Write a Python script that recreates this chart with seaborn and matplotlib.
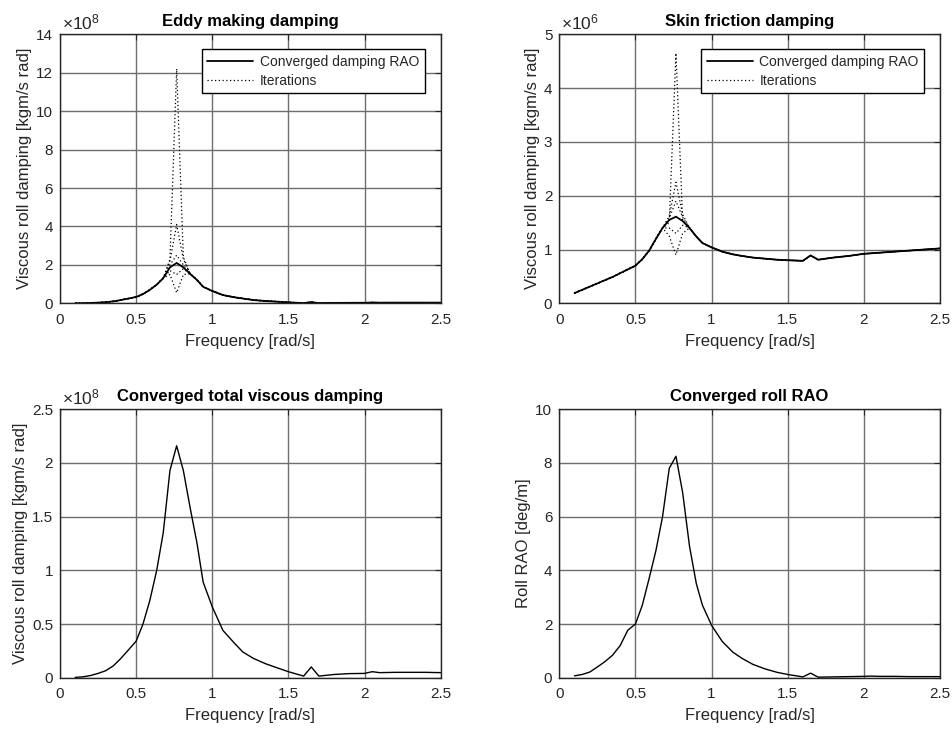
import matplotlib
matplotlib.use("Agg")
import matplotlib.pyplot as plt
import seaborn as sns
import numpy as np
import pandas as pd
from matplotlib.ticker import FuncFormatter

# ---------------- data ----------------
freq = [0.1, 0.15, 0.2, 0.25, 0.3, 0.35, 0.4, 0.45, 0.5, 0.545, 0.59, 0.635, 0.678,
        0.722, 0.766, 0.81, 0.855, 0.9, 0.94, 1.0, 1.07, 1.14, 1.2, 1.27, 1.35, 1.43,
        1.5, 1.6, 1.65, 1.7, 1.8, 1.9, 2.0, 2.05, 2.1, 2.2, 2.3, 2.4, 2.5]

# Eddy making damping, converged (x1e8 kgm/s rad)
eddy_e8 = [0.003, 0.007, 0.018, 0.035, 0.06, 0.1, 0.17, 0.25, 0.33, 0.48, 0.7, 0.97, 1.31,
           1.87, 2.1, 1.87, 1.53, 1.21, 0.86, 0.64, 0.43, 0.32, 0.25, 0.17, 0.12, 0.085,
           0.05, 0.01, 0.06, 0.01, 0.02, 0.025, 0.028, 0.04, 0.033, 0.035, 0.035, 0.035, 0.033]

# Skin friction damping, converged (x1e6 kgm/s rad)
skin_e6 = [0.19, 0.25, 0.31, 0.37, 0.43, 0.49, 0.56, 0.63, 0.70, 0.82, 0.98, 1.2, 1.4,
           1.55, 1.61, 1.53, 1.4, 1.24, 1.12, 1.04, 0.96, 0.91, 0.88, 0.85, 0.83, 0.81,
           0.80, 0.79, 0.89, 0.81, 0.85, 0.88, 0.92, 0.93, 0.94, 0.96, 0.98, 1.0, 1.02]

# Total viscous damping, converged (x1e8 kgm/s rad)
total_e8 = [0.003, 0.008, 0.02, 0.04, 0.065, 0.11, 0.18, 0.26, 0.34, 0.5, 0.72, 1.0, 1.35,
            1.93, 2.16, 1.93, 1.58, 1.25, 0.89, 0.66, 0.44, 0.33, 0.24, 0.18, 0.13, 0.09,
            0.056, 0.015, 0.1, 0.015, 0.03, 0.038, 0.04, 0.056, 0.047, 0.05, 0.05, 0.05, 0.047]

# Converged roll RAO (deg/m)
roll_rao = [0.07, 0.12, 0.21, 0.4, 0.6, 0.84, 1.2, 1.77, 2.0, 2.7, 3.7, 4.75, 6.0,
            7.8, 8.25, 6.9, 4.9, 3.5, 2.7, 1.95, 1.35, 0.95, 0.72, 0.5, 0.33, 0.2,
            0.12, 0.03, 0.17, 0.02, 0.03, 0.04, 0.05, 0.06, 0.05, 0.05, 0.04, 0.04, 0.04]

# Iterations: values differ from the converged curve only at these frequencies
iter_freq = [0.722, 0.766, 0.81]
eddy_iter_e8 = [[2.3, 12.2, 2.4],
                [1.5, 0.55, 1.5],
                [2.2, 4.1, 2.3],
                [1.7, 1.5, 1.8],
                [2.0, 2.5, 2.0]]
skin_iter_e6 = [[1.5, 4.65, 1.55],
                [1.25, 0.9, 1.3],
                [1.62, 2.25, 1.65],
                [1.4, 1.3, 1.45],
                [1.58, 1.9, 1.6]]

titles = ["Eddy making damping", "Skin friction damping",
          "Converged total viscous damping", "Converged roll RAO"]
xlabel = "Frequency [rad/s]"
ylabel_damp = "Viscous roll damping [kgm/s rad]"
ylabel_rao = "Roll RAO [deg/m]"
xticks = [0, 0.5, 1, 1.5, 2, 2.5]
legend_labels = ["Converged damping RAO", "Iterations"]

# ---------------- style ----------------
sns.set_style("white")
plt.rcParams["font.family"] = ["Liberation Sans", "DejaVu Sans"]
plt.rcParams["mathtext.fontset"] = "custom"
plt.rcParams["mathtext.rm"] = "Liberation Sans"
plt.rcParams["mathtext.it"] = "Liberation Sans:italic"
plt.rcParams["mathtext.default"] = "regular"

fig = plt.figure(figsize=(9.52, 7.29), dpi=100)
W, H = 952, 729
def rect(l, r, t, b):
    return [l / W, 1 - b / H, (r - l) / W, (b - t) / H]

ax_tl = fig.add_axes(rect(60, 440.7, 34.3, 303.3))
ax_tr = fig.add_axes(rect(559.3, 940, 34.3, 303.3))
ax_bl = fig.add_axes(rect(60, 440.7, 409.3, 677.7))
ax_br = fig.add_axes(rect(559.3, 940, 409.3, 677.7))

txtc = "#262626"
fmt = FuncFormatter(lambda v, p: ("%g" % v))

def style_ax(ax, ylim, yticks, title, ylabel, exp=None):
    ax.set_xlim(0, 2.5)
    ax.set_ylim(*ylim)
    ax.set_xticks(xticks)
    ax.set_yticks(yticks)
    ax.xaxis.set_major_formatter(fmt)
    ax.yaxis.set_major_formatter(fmt)
    ax.grid(True, color="#6e6e6e", lw=1.0)
    ax.set_axisbelow(True)
    for s in ax.spines.values():
        s.set_color("#262626")
        s.set_linewidth(1.0)
        s.set_visible(True)
    ax.tick_params(direction="in", length=4, width=0.8, top=True, right=True,
                   labelsize=11, colors=txtc)
    ax.tick_params(axis="x", pad=7)
    ax.tick_params(axis="y", pad=5)
    ax.set_title(title, fontsize=12, fontweight="bold", color="black", pad=6)
    ax.set_xlabel(xlabel, fontsize=12, color=txtc, labelpad=5)
    ax.set_ylabel(ylabel, fontsize=12, color=txtc, labelpad=3)
    if exp is not None:
        ax.text(0.005, 1.008, r"$\times10^{%d}$" % exp, transform=ax.transAxes,
                ha="left", va="bottom", fontsize=12.5, color=txtc)

def iteration_curve(base, vals):
    out = list(base)
    for f, v in zip(iter_freq, vals):
        out[freq.index(f)] = v
    return out

def plot_with_iterations(ax, conv, iters):
    sns.lineplot(x=freq, y=conv, ax=ax, color="black", lw=1.3,
                 label=legend_labels[0], estimator=None, sort=False)
    for i, it in enumerate(iters):
        sns.lineplot(x=freq, y=iteration_curve(conv, it), ax=ax, color="black",
                     lw=0.9, linestyle=(0, (1, 2)),
                     label=legend_labels[1] if i == 0 else None,
                     estimator=None, sort=False)
    leg = ax.legend(loc="upper right", bbox_to_anchor=(0.959, 0.945),
                    borderaxespad=0, fontsize=10, frameon=True, fancybox=False,
                    framealpha=1, edgecolor="black", handlelength=3.3,
                    borderpad=0.4, labelspacing=0.35, handletextpad=0.5)
    leg.get_frame().set_linewidth(1.0)

plot_with_iterations(ax_tl, eddy_e8, eddy_iter_e8)
style_ax(ax_tl, (0, 14), range(0, 15, 2), titles[0], ylabel_damp, exp=8)

plot_with_iterations(ax_tr, skin_e6, skin_iter_e6)
style_ax(ax_tr, (0, 5), range(0, 6), titles[1], ylabel_damp, exp=6)

sns.lineplot(x=freq, y=total_e8, ax=ax_bl, color="black", lw=1.0, estimator=None, sort=False)
style_ax(ax_bl, (0, 2.5), [0, 0.5, 1, 1.5, 2, 2.5], titles[2], ylabel_damp, exp=8)

sns.lineplot(x=freq, y=roll_rao, ax=ax_br, color="black", lw=1.0, estimator=None, sort=False)
style_ax(ax_br, (0, 10), range(0, 11, 2), titles[3], ylabel_rao)

fig.savefig("out.png", dpi=100, facecolor="white")
